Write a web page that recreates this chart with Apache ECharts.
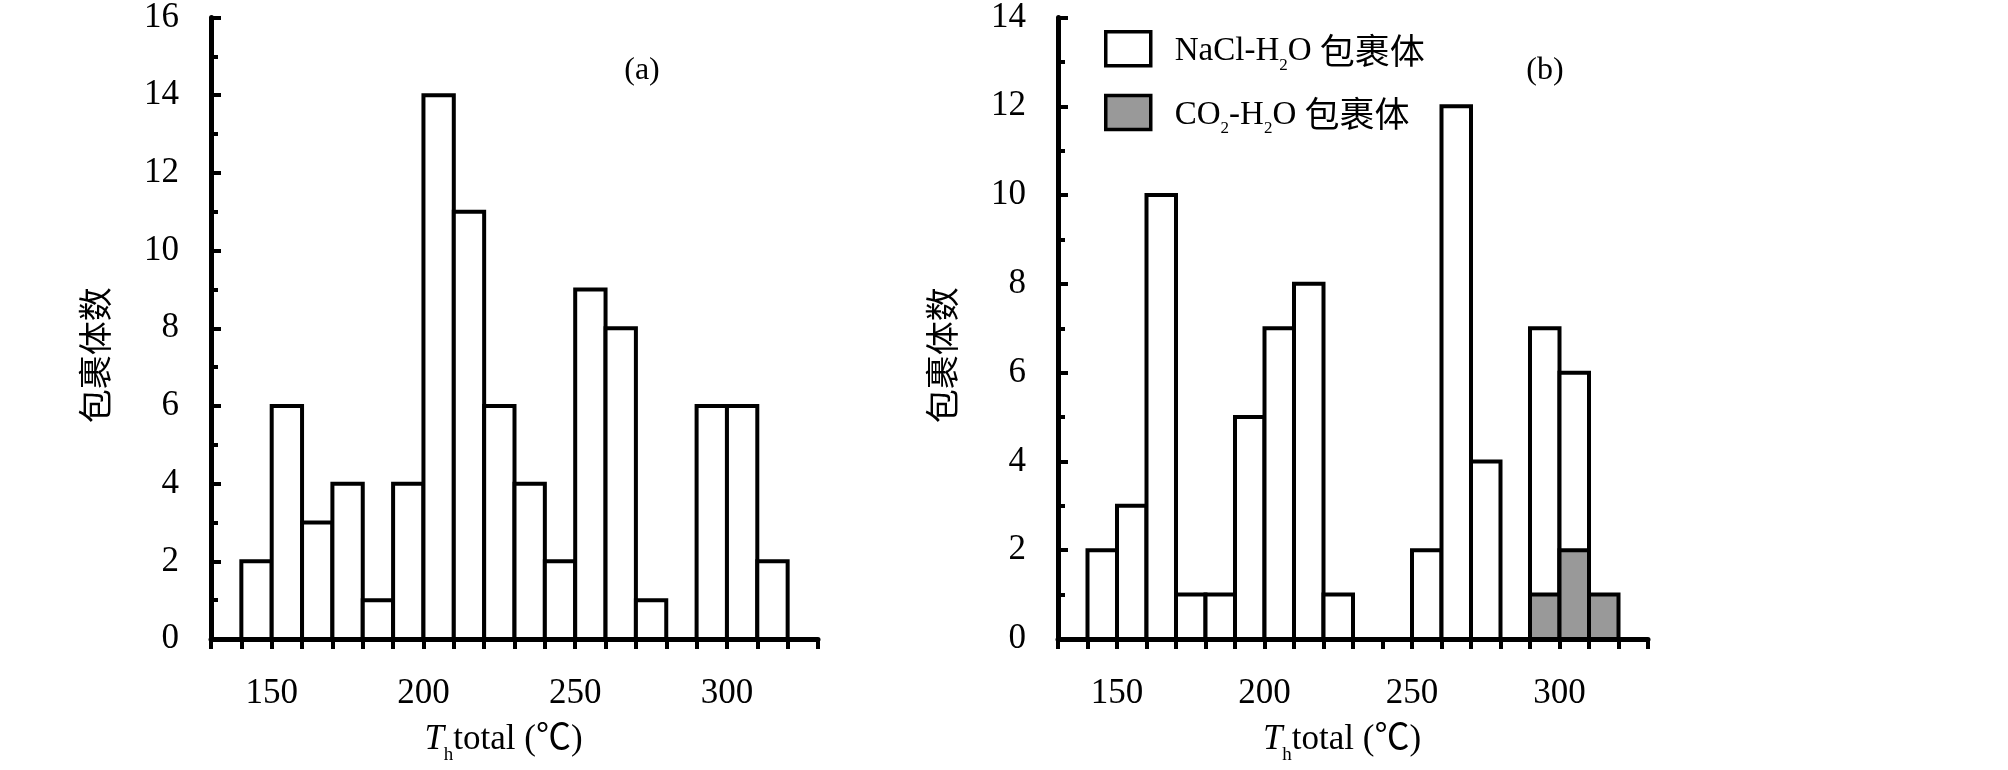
<!DOCTYPE html>
<html>
<head>
<meta charset="utf-8">
<script src="https://cdn.jsdelivr.net/npm/echarts@6/dist/echarts.min.js"></script>
<style>
html,body{margin:0;padding:0;background:#fff;}
#chart{width:2008px;height:770px;}
</style>
</head>
<body>
<div id="chart"></div>
<script>
// ---- data ----
const binLow  = [140,150,160,170,180,190,200,210,220,230,240,250,260,270,280,290,300,310];
const binHigh = [150,160,170,180,190,200,210,220,230,240,250,260,270,280,290,300,310,320];
const countsA = [2,6,3,4,1,4,14,11,6,4,2,9,8,1,0,6,6,2];
const countsNaCl = [2,3,10,1,1,5,7,8,1,0,0,2,12,4,0,7,6,0];
const countsCO2  = [0,0,0,0,0,0,0,0,0,0,0,0,0,0,0,1,2,1];
const xTickLabels = [150,200,250,300];
const legendNames = ['NaCl-H2O 包裹体','CO2-H2O 包裹体'];

const SERIF = "'Liberation Serif','Noto Sans CJK SC',serif";
const CJK = "'Noto Sans CJK SC','Liberation Serif',sans-serif";

function toData(counts){
  return binLow.map((lo,i)=>[lo, binHigh[i], counts[i]]);
}
function makeRender(fill){
  return function(params, api){
    const x0 = api.value(0), x1 = api.value(1), y = api.value(2);
    if (!y) return null;
    const p0 = api.coord([x0, 0]);
    const p1 = api.coord([x1, y]);
    return {
      type:'rect',
      shape:{x:p0[0], y:p1[1], width:p1[0]-p0[0], height:p0[1]-p1[1]},
      style:{fill:fill, stroke:'#000', lineWidth:4}
    };
  };
}

function xAxisCfg(gridIndex){
  return {
    gridIndex, type:'value', min:130, max:330, interval:10,
    axisLine:{show:true, onZero:false, lineStyle:{color:'#000', width:5}},
    axisTick:{show:true, inside:false, length:10, lineStyle:{color:'#000', width:4}},
    splitLine:{show:false},
    axisLabel:{
      margin:37, color:'#000', fontSize:35, fontFamily:SERIF,
      formatter:v => xTickLabels.indexOf(v) >= 0 ? String(v) : ''
    },
    name:'{it|T}{sub|h}{t|total (℃)}',
    nameLocation:'middle', nameGap:78,
    nameTextStyle:{
      padding:[0,22,0,0],
      rich:{
        it:{fontSize:35, fontFamily:SERIF, fontStyle:'italic', color:'#000', lineHeight:40, verticalAlign:'bottom'},
        sub:{fontSize:19, fontFamily:SERIF, color:'#000', lineHeight:40, verticalAlign:'bottom', padding:[0,0,-8,0]},
        t:{fontSize:35, fontFamily:SERIF, color:'#000', lineHeight:40, verticalAlign:'bottom'}
      }
    }
  };
}
function yAxisCfg(gridIndex, max){
  return {
    gridIndex, type:'value', min:0, max:max, interval:2,
    axisLine:{show:true, lineStyle:{color:'#000', width:5}},
    axisTick:{show:true, inside:true, length:10, lineStyle:{color:'#000', width:4}},
    minorTick:{show:true, splitNumber:2, length:7, lineStyle:{color:'#000', width:4}},
    splitLine:{show:false},
    minorSplitLine:{show:false},
    axisLabel:{margin:32, color:'#000', fontSize:35, fontFamily:SERIF},
    name:'包裹体数', nameLocation:'middle', nameGap:99, nameRotate:90,
    nameTextStyle:{fontSize:34, fontFamily:CJK, color:'#000', padding:[0,54,0,0]}
  };
}

const chart = echarts.init(document.getElementById('chart'), null, {renderer:'canvas'});
chart.setOption({
  animation:false,
  backgroundColor:'#fff',
  grid:[
    {left:211, top:13, width:607, height:643},
    {left:1058, top:17, width:590, height:634}
  ],
  xAxis:[xAxisCfg(0), xAxisCfg(1)],
  yAxis:[yAxisCfg(0,16), yAxisCfg(1,14)],
  legend:{
    show:true, orient:'vertical', left:1099, top:25,
    itemWidth:45, itemHeight:34, itemGap:20,
    icon:'rect',
    data:[
      {name:legendNames[0], itemStyle:{color:'#fff', borderColor:'#000', borderWidth:3.5}},
      {name:legendNames[1], itemStyle:{color:'#999999', borderColor:'#000', borderWidth:3.5}}
    ],
    selectedMode:false,
    formatter:function(name){
      if (name === legendNames[0]) return '{t0|NaCl-H}{s|2}{t|O }{c|包裹体}';
      return '{t0|CO}{s|2}{t|-H}{s|2}{t|O }{c|包裹体}';
    },
    textStyle:{
      color:'#000',
      rich:{
        t0:{fontSize:33, fontFamily:SERIF, color:'#000', lineHeight:38, verticalAlign:'bottom', padding:[0,0,0,19]},
        t:{fontSize:33, fontFamily:SERIF, color:'#000', lineHeight:38, verticalAlign:'bottom'},
        s:{fontSize:17, fontFamily:SERIF, color:'#000', lineHeight:38, verticalAlign:'bottom', padding:[0,0,-6,0]},
        c:{fontSize:35, fontFamily:CJK, color:'#000', lineHeight:38, verticalAlign:'bottom'}
      }
    }
  },
  graphic:[
    {type:'text', x:642, y:71, style:{text:'(a)', align:'center', verticalAlign:'middle', font:"32px 'Liberation Serif'", fill:'#000'}},
    {type:'text', x:1545, y:71, style:{text:'(b)', align:'center', verticalAlign:'middle', font:"32px 'Liberation Serif'", fill:'#000'}}
  ],
  series:[
    {type:'custom', name:'a', xAxisIndex:0, yAxisIndex:0, renderItem:makeRender('#fff'),
     encode:{x:[0,1], y:2}, data:toData(countsA), z:2},
    {type:'custom', name:legendNames[0], xAxisIndex:1, yAxisIndex:1, renderItem:makeRender('#fff'),
     encode:{x:[0,1], y:2}, data:toData(countsNaCl), z:2, itemStyle:{color:'#fff'}},
    {type:'custom', name:legendNames[1], xAxisIndex:1, yAxisIndex:1, renderItem:makeRender('#999999'),
     encode:{x:[0,1], y:2}, data:toData(countsCO2), z:3, itemStyle:{color:'#999999'}}
  ]
});
</script>
</body>
</html>
